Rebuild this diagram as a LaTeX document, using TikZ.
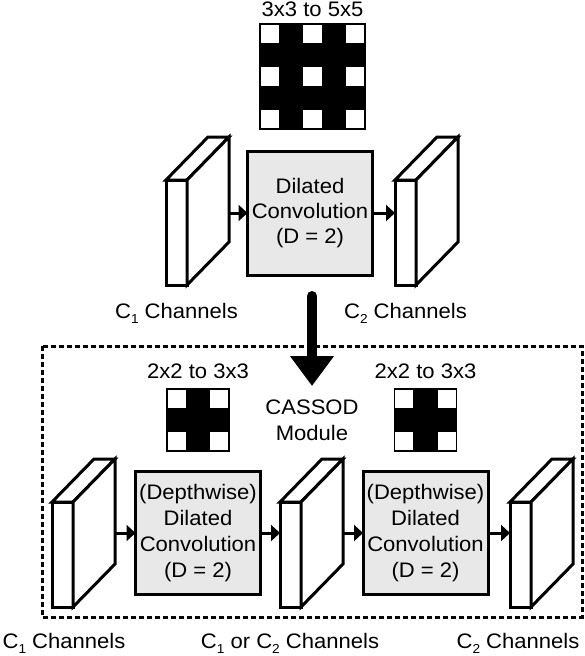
\documentclass[tikz,border=0pt]{standalone}
\usepackage{fontspec}
\setmainfont{Liberation Sans}[FakeStretch=1.05]
\usetikzlibrary{arrows.meta,calc}
\definecolor{boxgray}{RGB}{232,232,232}
\newcommand{\mysub}[1]{\raisebox{-0.5ex}{\fontsize{13}{13}\selectfont #1}}
\tikzset{
  slabfront/.style={draw, fill=white, line width=3pt, minimum width=21pt, minimum height=105pt, inner sep=0pt, outer sep=0pt},
  slabface/.style={draw, fill=white, line width=3pt, line join=miter},
  convbox/.style={draw, fill=boxgray, line width=3pt, minimum width=125pt, minimum height=124pt, inner sep=0pt, outer sep=0pt, align=center},
  flow/.style={line width=3pt, -{Triangle[length=9pt,width=16pt]}},
  lbl/.style={font=\fontsize{21}{25}\selectfont, inner sep=0pt, anchor=base},
  bigarrow/.style={line width=10pt, line cap=round, -{Triangle[length=30pt,width=42pt]}},
  modbox/.style={line width=3pt, dash pattern=on 5pt off 3pt},
}
\newcommand{\myslab}[3]{%
  \node[slabfront, anchor=north west] (#1) at (#2,#3) {};
  \draw[slabface] (#1.north west) -- ($(#1.north west)+(42,-43)$) -- ($(#1.north east)+(42,-43)$) -- (#1.north east) -- cycle;
  \draw[slabface] (#1.north east) -- ($(#1.north east)+(42,-43)$) -- ($(#1.south east)+(42,-43)$) -- (#1.south east) -- cycle;
  \coordinate (#1o) at ($(#1.north east)+(42,0)$);
}
\newcommand{\kgrid}[6]{% name, x0, y0, size, cell, list
  \node[fill=black, minimum size=#4pt, anchor=north west, inner sep=0pt, outer sep=0pt] (#1) at (#2,#3) {};
  \foreach \i in {#6} {\foreach \j in {#6} {
    \fill[white] ({#2+\i*#5+1.6},{#3+\j*#5+1.6}) rectangle ++({#5-3.2},{#5-3.2});
  }}
}
\begin{document}
\begin{tikzpicture}[x=1pt,y=-1pt]
\useasboundingbox (0,0) rectangle (584,656);

% top part
\node[lbl] (k0l) at (312.5,16) {3x3 to 5x5};
\kgrid{k0}{259}{23}{107}{21.4}{0,2,4}

\myslab{s1}{166}{180}
\myslab{s2}{395}{180}
\node[convbox, font=\fontsize{21}{25}\selectfont] (b0) at (310,213) {Dilated\\Convolution\\(D = 2)};
\draw[flow] (s1o |- b0.west) -- (b0.west);
\draw[flow] (b0.east) -- (b0.east -| s2.west);

\node[lbl] (l1) at (176.5,318) {C\mysub{1} Channels};
\node[lbl] (l2) at (405.5,318) {C\mysub{2} Channels};

% big arrow
\coordinate (bat) at (312,296);
\coordinate (bab) at (312,386);
\draw[bigarrow] (bat) -- (bab);

% module
\draw[modbox] (42,346) rectangle (582,617);

\node[lbl] (k1l) at (198,378) {2x2 to 3x3};
\node[lbl] (k2l) at (425.5,378) {2x2 to 3x3};
\kgrid{k1}{166.2}{388}{63.6}{21.2}{0,2}
\kgrid{k2}{393.7}{388}{63.6}{21.2}{0,2}
\node[align=center, font=\fontsize{21}{26}\selectfont, inner sep=0pt] (cm) at (312,420) {CASSOD\\Module};

\myslab{s3}{52}{502}
\myslab{s4}{280}{502}
\myslab{s5}{510}{502}
\node[convbox, minimum height=123pt, font=\fontsize{21}{26}\selectfont] (b1) at (198,533) {(Depthwise)\\Dilated\\Convolution\\(D = 2)};
\node[convbox, minimum height=123pt, font=\fontsize{21}{26}\selectfont] (b2) at (425.5,533) {(Depthwise)\\Dilated\\Convolution\\(D = 2)};
\draw[flow] (s3o |- b1.west) -- (b1.west);
\draw[flow] (b1.east) -- (b1.east -| s4.west);
\draw[flow] (s4o |- b2.west) -- (b2.west);
\draw[flow] (b2.east) -- (b2.east -| s5.west);

\node[lbl] (l3) at (64,648) {C\mysub{1} Channels};
\node[lbl] (l4) at (290,648) {C\mysub{1} or C\mysub{2} Channels};
\node[lbl] (l5) at (518,648) {C\mysub{2} Channels};
\end{tikzpicture}
\end{document}
